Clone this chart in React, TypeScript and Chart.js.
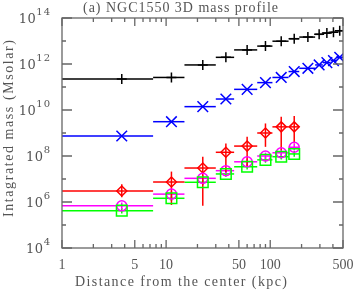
import React, { useEffect, useRef } from "react";
import { Chart, registerables } from "chart.js";

Chart.register(...registerables);

// Radial bins (kpc)
const binLow = [0, 7.5, 15, 30, 45, 75, 105, 150, 190, 270, 320, 380, 430];
const binHigh = [7.5, 15, 30, 45, 75, 105, 150, 190, 270, 320, 380, 430, 500];
const binCenter = [3.75, 11.25, 22.5, 37.5, 60, 90, 127.5, 170, 230, 295, 350, 405, 465];

// Total mass (black +)
const totalMass = [2.2e11, 2.6e11, 9.1e11, 1.95e12, 4.1e12, 6.0e12, 9.8e12, 1.26e13, 1.48e13, 1.95e13, 2.2e13, 2.4e13, 2.8e13];
// Gas mass (blue x)
const gasMass = [7.4e8, 3.1e9, 1.4e10, 3.0e10, 7.9e10, 1.55e11, 2.6e11, 4.7e11, 6.5e11, 9.1e11, 1.15e12, 1.4e12, 1.95e12];
// Red diamonds
const redMass = [3.0e6, 7.4e6, 3.0e7, 1.45e8, 2.7e8, 1.0e9, 1.85e9, 1.85e9];
const redHigh = [5.9e6, 2.1e7, 9.3e7, 3.5e8, 6.9e8, 2.6e9, 5.1e9, 5.5e9];
const redLow = [1.6e6, 7.4e5, 6.8e5, 2.0e7, 3.4e7, 2.5e8, 1.8e8, 3.5e8];
// Magenta circles
const magMass = [6.8e5, 2.2e6, 1.07e7, 2.3e7, 5.6e7, 1.0e8, 1.38e8, 2.4e8];
const magHigh = [9.5e5, 3.0e6, 1.5e7, 3.2e7, 7.6e7, 1.4e8, 1.9e8, 3.3e8];
const magLow = [4.8e5, 1.6e6, 7.6e6, 1.65e7, 4.0e7, 7.2e7, 1.0e8, 1.75e8];
// Green squares
const grnMass = [4.2e5, 1.45e6, 7.2e6, 1.66e7, 3.4e7, 6.8e7, 9.3e7, 1.23e8];
const grnHigh = [5.5e5, 1.9e6, 9.5e6, 2.2e7, 4.5e7, 9.0e7, 1.25e8, 1.65e8];
const grnLow = [3.2e5, 1.1e6, 5.4e6, 1.25e7, 2.6e7, 5.1e7, 7.0e7, 9.2e7];

// Axis ticks
const xMin = 1;
const xMax = 500;
const yMin = 1e4;
const yMax = 1e14;
const xTickValues = [1, 2, 3, 4, 5, 6, 7, 8, 9, 10, 20, 30, 40, 50, 60, 70, 80, 90, 100, 200, 300, 400, 500];
const xTickLabels = [1, 5, 10, 50, 100, 500];
const yExponents = [4, 5, 6, 7, 8, 9, 10, 11, 12, 13, 14];
const yLabelExponents = [4, 6, 8, 10, 12, 14];

const titleText = "(a) NGC1550 3D mass profile";
const xTitle = "Distance from the center (kpc)";
const yTitle = "Intagrated mass (Msolar)";

const TEXT = "#555";
const FONT = "'Liberation Serif', serif";
const NUMFONT = "'DejaVu Serif', serif";

function pts(ys: number[]) {
  return ys.map((v, i) => ({ x: binCenter[i], y: v }));
}

type ErrSet = { color: string; y: number[]; lo?: number[]; hi?: number[] };

const errSets: ErrSet[] = [
  { color: "#000000", y: totalMass },
  { color: "#0000ff", y: gasMass },
  { color: "#00ff00", y: grnMass, lo: grnLow, hi: grnHigh },
  { color: "#ff00ff", y: magMass, lo: magLow, hi: magHigh },
  { color: "#ff0000", y: redMass, lo: redLow, hi: redHigh },
];

// draw text spread to a target width (centered at cx)
function fitText(ctx: any, text: string, cx: number, cy: number, width: number) {
  ctx.letterSpacing = "0px";
  const w = ctx.measureText(text).width;
  const n = text.length;
  const sp = n > 1 ? (width - w) / (n - 1) : 0;
  ctx.letterSpacing = `${sp}px`;
  ctx.textAlign = "left";
  ctx.fillText(text, cx - width / 2, cy);
  ctx.letterSpacing = "0px";
}

const errorBarPlugin = {
  id: "errorBars",
  beforeDatasetsDraw(chart: any) {
    const { ctx, chartArea: a, scales } = chart;
    const xs = scales.x;
    const ys = scales.y;
    ctx.save();
    ctx.beginPath();
    ctx.rect(a.left, a.top, a.right - a.left, a.bottom - a.top);
    ctx.clip();
    ctx.lineWidth = 1.5;
    for (const s of errSets) {
      ctx.strokeStyle = s.color;
      s.y.forEach((v, i) => {
        const py = ys.getPixelForValue(v);
        const lowX = binLow[i] > 0 ? xs.getPixelForValue(binLow[i]) : a.left;
        const highX = xs.getPixelForValue(binHigh[i]);
        ctx.beginPath();
        ctx.moveTo(lowX, py);
        ctx.lineTo(highX, py);
        ctx.stroke();
        if (s.lo && s.hi) {
          const px = xs.getPixelForValue(binCenter[i]);
          ctx.beginPath();
          ctx.moveTo(px, ys.getPixelForValue(s.hi[i]));
          ctx.lineTo(px, ys.getPixelForValue(s.lo[i]));
          ctx.stroke();
        }
      });
    }
    ctx.restore();
  },
};

const framePlugin = {
  id: "frame",
  afterDraw(chart: any) {
    const { ctx, chartArea: a, scales } = chart;
    const xs = scales.x;
    const ys = scales.y;
    ctx.save();
    ctx.strokeStyle = "#666";
    ctx.lineWidth = 1.3;
    ctx.strokeRect(a.left, a.top, a.right - a.left, a.bottom - a.top);
    // x ticks
    ctx.beginPath();
    for (const v of xTickValues) {
      const px = xs.getPixelForValue(v);
      const len = xTickLabels.includes(v) ? 8 : 4;
      ctx.moveTo(px, a.bottom);
      ctx.lineTo(px, a.bottom - len);
      ctx.moveTo(px, a.top);
      ctx.lineTo(px, a.top + len);
    }
    // y ticks
    for (const e of yExponents) {
      const py = ys.getPixelForValue(Math.pow(10, e));
      const len = yLabelExponents.includes(e) ? 10 : 4;
      ctx.moveTo(a.left, py);
      ctx.lineTo(a.left + len, py);
      ctx.moveTo(a.right, py);
      ctx.lineTo(a.right - len, py);
    }
    ctx.stroke();

    ctx.fillStyle = TEXT;
    ctx.textBaseline = "middle";
    // x tick labels
    ctx.font = `14px ${FONT}`;
    for (const v of xTickLabels) {
      const s = String(v);
      fitText(ctx, s, xs.getPixelForValue(v), a.bottom + 17, s.length * 7);
    }
    // y tick labels 10^n
    ctx.textAlign = "right";
    for (const e of yLabelExponents) {
      const py = ys.getPixelForValue(Math.pow(10, e));
      const right = a.left - 12;
      const expStr = String(e);
      ctx.font = `10px ${NUMFONT}`;
      ctx.letterSpacing = "1px";
      const ew = ctx.measureText(expStr).width;
      ctx.textAlign = "right";
      ctx.fillText(expStr, right + 1, py - 6);
      ctx.font = `13px ${NUMFONT}`;
      ctx.letterSpacing = "0.5px";
      ctx.fillText("10", right - ew + 1, py + 2);
      ctx.letterSpacing = "0px";
    }
    // titles
    ctx.font = `14px ${FONT}`;
    fitText(ctx, xTitle, 181, a.bottom + 34, 212);
    fitText(ctx, titleText, 180.5, 8, 195);
    ctx.save();
    ctx.translate(9, 128.5);
    ctx.rotate(-Math.PI / 2);
    fitText(ctx, yTitle, 0, 0, 177);
    ctx.restore();
    ctx.restore();
  },
};

export default function App() {
  const ref = useRef<HTMLCanvasElement | null>(null);
  useEffect(() => {
    document.body.style.margin = "0";
    const canvas = ref.current!;
    const chart = new Chart(canvas, {
      type: "scatter",
      data: {
        datasets: [
          { label: "total", data: pts(totalMass), pointStyle: "cross", pointRadius: 5, borderColor: "#000", backgroundColor: "#000", borderWidth: 1.5 },
          { label: "gas", data: pts(gasMass), pointStyle: "crossRot", pointRadius: 7.5, borderColor: "#0000ff", backgroundColor: "#0000ff", borderWidth: 1.5 },
          { label: "green", data: pts(grnMass), pointStyle: "rect", pointRadius: 7.5, borderColor: "#00ff00", backgroundColor: "rgba(0,0,0,0)", borderWidth: 1.5 },
          { label: "magenta", data: pts(magMass), pointStyle: "circle", pointRadius: 5, borderColor: "#ff00ff", backgroundColor: "rgba(0,0,0,0)", borderWidth: 1.5 },
          { label: "red", data: pts(redMass), pointStyle: "rectRot", pointRadius: 5, borderColor: "#ff0000", backgroundColor: "rgba(0,0,0,0)", borderWidth: 1.5 },
        ],
      },
      options: {
        animation: false,
        responsive: false,
        devicePixelRatio: 1,
        layout: { padding: { left: 62, right: 14, top: 18, bottom: 43 } },
        plugins: { legend: { display: false }, tooltip: { enabled: false }, title: { display: false } },
        elements: { point: { hoverRadius: 5 } },
        scales: {
          x: { type: "logarithmic", min: xMin, max: xMax, display: false },
          y: { type: "logarithmic", min: yMin, max: yMax, display: false },
        },
      },
      plugins: [errorBarPlugin, framePlugin],
    });
    return () => chart.destroy();
  }, []);
  return (
    <div style={{ position: "absolute", left: 0, top: 0, width: 357, height: 291, background: "#fff" }}>
      <canvas ref={ref} width={357} height={291} style={{ width: 357, height: 291 }} />
    </div>
  );
}
